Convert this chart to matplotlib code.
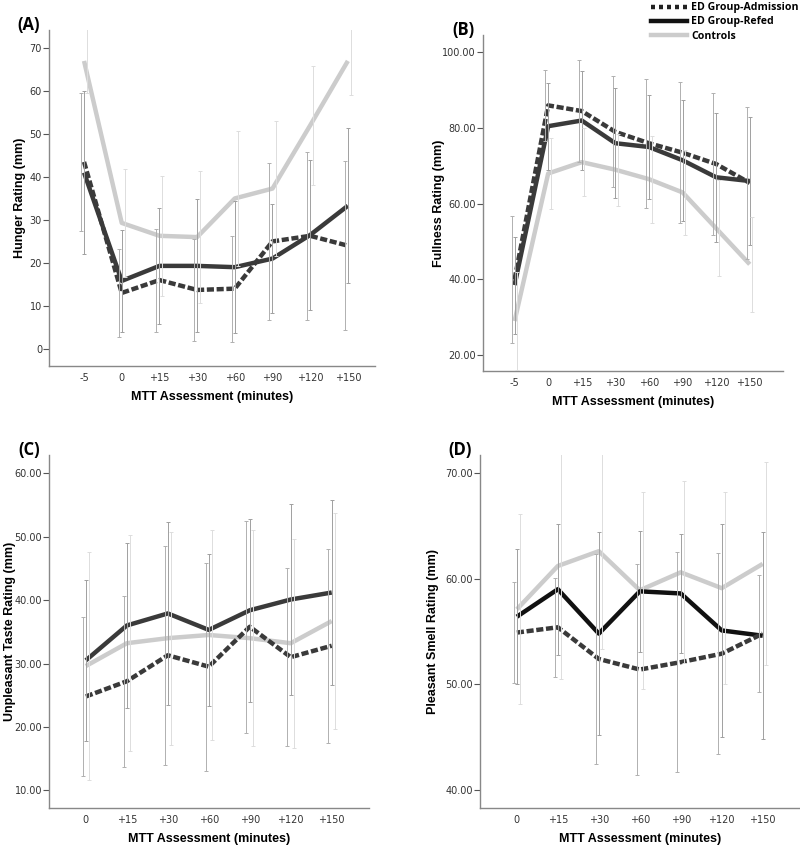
import numpy as np
import matplotlib.pyplot as plt
from matplotlib.lines import Line2D

# Мітки часу
ticks_ab = ['-5', '0', '+15', '+30', '+60', '+90', '+120', '+150']
ticks_cd = ['0', '+15', '+30', '+60', '+90', '+120', '+150']

# (A) Hunger
hunger_adm = [43.5, 13.0, 16.0, 13.7, 14.0, 25.0, 26.3, 24.0]
hunger_adm_err = [16.0, 10.3, 12.0, 11.8, 12.3, 18.3, 19.6, 19.6]
hunger_ref = [41.0, 15.8, 19.3, 19.3, 19.0, 21.0, 26.5, 33.3]
hunger_ref_err = [19.0, 11.8, 13.5, 15.5, 15.3, 12.7, 17.5, 18.0]
hunger_ctl = [67.0, 29.3, 26.3, 26.0, 35.0, 37.3, 52.0, 67.0]
hunger_ctl_err = [7.5, 12.5, 14.0, 15.3, 15.7, 15.7, 13.8, 8.0]

# (B) Fullness
full_adm = [40.0, 86.0, 84.5, 79.0, 76.0, 73.5, 70.5, 65.5]
full_adm_err = [16.7, 9.3, 13.5, 14.7, 17.0, 18.7, 18.7, 20.0]
full_ref = [38.5, 80.5, 82.0, 76.0, 75.0, 71.5, 67.0, 66.0]
full_ref_err = [12.8, 11.5, 13.0, 14.5, 13.7, 16.0, 17.0, 17.0]
full_ctl = [29.0, 68.0, 71.0, 69.0, 66.5, 63.0, 53.5, 44.0]
full_ctl_err = [13.0, 9.5, 9.0, 9.5, 11.5, 11.3, 12.7, 12.5]

# (C) Unpleasant taste
taste_adm = [24.8, 27.2, 31.3, 29.5, 35.8, 31.0, 32.8]
taste_adm_err = [12.6, 13.5, 17.3, 16.4, 16.7, 14.0, 15.3]
taste_ref = [30.5, 36.0, 37.9, 35.3, 38.4, 40.1, 41.2]
taste_ref_err = [12.7, 13.0, 14.4, 12.0, 14.4, 15.0, 14.6]
taste_ctl = [29.6, 33.2, 34.0, 34.5, 34.0, 33.2, 36.7]
taste_ctl_err = [18.0, 17.0, 16.8, 16.5, 17.0, 16.5, 17.0]

# (D) Pleasant smell
smell_adm = [54.9, 55.4, 52.4, 51.4, 52.1, 52.9, 54.8]
smell_adm_err = [4.8, 4.7, 9.9, 10.0, 10.4, 9.5, 5.5]
smell_ref = [56.4, 59.0, 54.8, 58.8, 58.6, 55.1, 54.6]
smell_ref_err = [6.4, 6.2, 9.6, 5.7, 5.6, 10.1, 9.8]
smell_ctl = [57.1, 61.2, 62.6, 58.9, 60.6, 59.1, 61.4]
smell_ctl_err = [9.0, 10.7, 9.3, 9.3, 8.6, 9.1, 9.6]

dark = '#3a3a3a'
light = '#cccccc'

W, H = 800, 846
fig = plt.figure(figsize=(W / 100, H / 100), dpi=100)


def panel(box, label, ticks, adm, adm_err, ref, ref_err, ctl, ctl_err,
          ylabel, yticks, ylim, xlim, yfmt, ylab_x, ref_color=dark):
    # box = (left, top, right, bottom) у пікселях
    l, t, r, b = box
    ax = fig.add_axes([l / W, 1 - b / H, (r - l) / W, (b - t) / H])
    wpx, hpx = r - l, b - t
    x = np.arange(len(ticks))
    off = 0.08
    ax.plot(x, ctl, color=light, lw=3.2, solid_capstyle='butt', zorder=2)
    ax.plot(x, ref, color=ref_color, lw=3.2, solid_capstyle='butt', zorder=3)
    ax.plot(x, adm, color=dark, lw=3.2, linestyle=(0, (1.6, 0.6)), zorder=4)
    ax.errorbar(x - off, adm, yerr=adm_err, fmt='none', ecolor='#b0b0b0',
                elinewidth=0.7, capsize=1.5, capthick=0.7, zorder=5, linestyle=':')
    ax.errorbar(x, ref, yerr=ref_err, fmt='none', ecolor='#a0a0a0',
                elinewidth=0.7, capsize=1.5, capthick=0.7, zorder=5)
    ax.errorbar(x + off, ctl, yerr=ctl_err, fmt='none', ecolor='#dddddd',
                elinewidth=0.7, capsize=1.5, capthick=0.7, zorder=5)
    ax.set_xlim(*xlim)
    ax.set_ylim(*ylim)
    ax.set_xticks(x)
    ax.set_xticklabels(ticks)
    ax.set_yticks(yticks)
    ax.set_yticklabels([yfmt.format(v) for v in yticks])
    for s in ['top', 'right']:
        ax.spines[s].set_visible(False)
    for s in ['left', 'bottom']:
        ax.spines[s].set_color('#888888')
        ax.spines[s].set_linewidth(1.0)
    ax.tick_params(axis='y', length=4, width=0.8, color='#555555', labelsize=7,
                   labelcolor='#333333', pad=1)
    ax.tick_params(axis='x', length=0, labelsize=7, labelcolor='#333333', pad=5)
    ax.set_xlabel('MTT Assessment (minutes)', fontsize=9, fontweight='bold',
                  family='Liberation Sans')
    ax.xaxis.set_label_coords(0.5, -31 / hpx)
    ax.set_ylabel(ylabel, fontsize=9, fontweight='bold', family='Liberation Sans')
    ax.yaxis.set_label_coords((ylab_x - l) / wpx, 0.5)
    ax.xaxis.label.set_va('center')
    ax.yaxis.label.set_va('center')
    ax.text(-20 / wpx, 1 + 5 / hpx, label, transform=ax.transAxes, fontsize=12,
            fontweight='bold', family='Open Sans', ha='center', va='center')
    return ax


panel((49, 30, 375, 366), '(A)', ticks_ab, hunger_adm, hunger_adm_err,
      hunger_ref, hunger_ref_err, hunger_ctl, hunger_ctl_err,
      'Hunger Rating (mm)', np.arange(0, 71, 10), (-4, 74.2), (-0.93, 7.72), '{:.0f}', 20)
panel((483, 35, 783, 371), '(B)', ticks_ab, full_adm, full_adm_err,
      full_ref, full_ref_err, full_ctl, full_ctl_err,
      'Fullness Rating (mm)', np.arange(20, 101, 20), (15.8, 104.6), (-0.94, 7.99), '{:.2f}', 439)
panel((49, 455, 369, 808), '(C)', ticks_cd, taste_adm, taste_adm_err,
      taste_ref, taste_ref_err, taste_ctl, taste_ctl_err,
      'Unpleasant Taste Rating (mm)', np.arange(10, 61, 10), (7.2, 62.9), (-0.9, 6.91), '{:.2f}', 10)
panel((480, 455, 800, 808), '(D)', ticks_cd, smell_adm, smell_adm_err,
      smell_ref, smell_ref_err, smell_ctl, smell_ctl_err,
      'Pleasant Smell Rating (mm)', np.arange(40, 71, 10), (38.3, 71.7), (-0.9, 6.91), '{:.2f}', 433,
      ref_color='#111111')

# Легенда
handles = [Line2D([], [], color='#222222', lw=3.2, linestyle=(0, (0.9, 0.9))),
           Line2D([], [], color='#111111', lw=3.2),
           Line2D([], [], color=light, lw=3.2)]
fig.legend(handles, ['ED Group-Admission', 'ED Group-Refed', 'Controls'],
           loc='upper left', bbox_to_anchor=(644 / W, 1.006), frameon=False,
           prop={'family': 'Open Sans', 'weight': 'bold', 'size': 7.6},
           handlelength=3.4, handletextpad=0.35, labelspacing=0.3, borderpad=0.2)

plt.savefig('out.png', dpi=100)
